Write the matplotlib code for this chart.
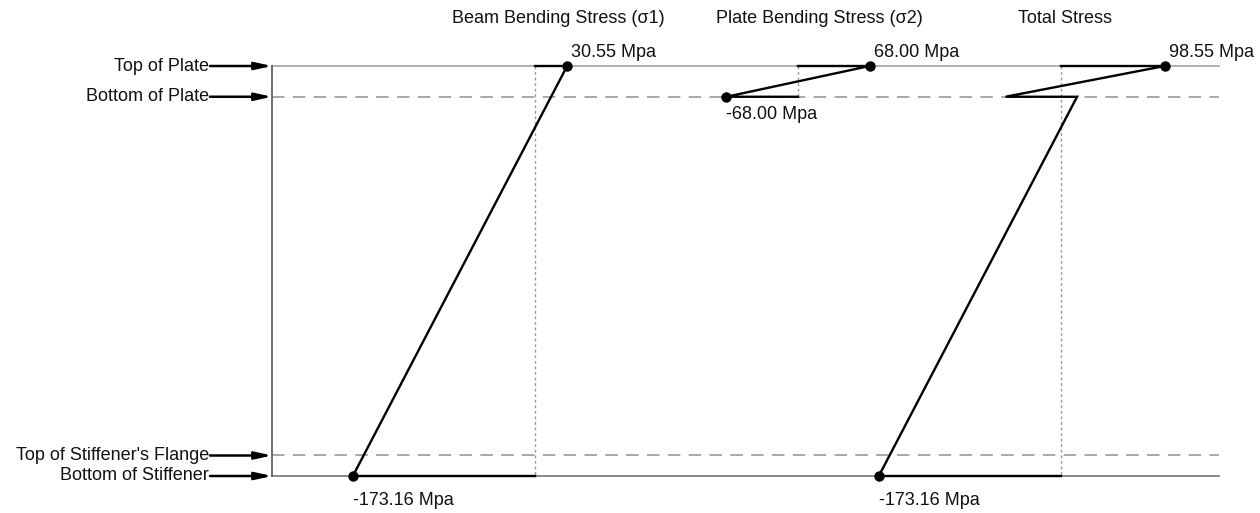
import matplotlib
matplotlib.use('Agg')
import matplotlib.pyplot as plt
import numpy as np

plt.rcParams['font.family'] = ['Liberation Sans', 'DejaVu Sans']

# ---- data ----
levels = ["Top of Plate", "Bottom of Plate", "Top of Stiffener's Flange", "Bottom of Stiffener"]
depths = [0, 15, 190, 200]                       # mm from top of plate
titles = ["Beam Bending Stress (σ1)", "Plate Bending Stress (σ2)", "Total Stress"]

beam_depths = [0, 0, 200, 200]
beam_stress = [0, 30.55, -173.16, 0]

plate_depths = [0, 0, 15, 15]
plate_stress = [0, 68.00, -68.00, 0]

total_depths = [0, 0, 15, 15, 200, 200]
total_stress = [0, 98.55, -52.7, 15.3, -173.16, 0]

# labelled points
beam_pts = [(30.55, 0, "30.55 Mpa"), (-173.16, 200, "-173.16 Mpa")]
plate_pts = [(68.00, 0, "68.00 Mpa"), (-68.00, 15, "-68.00 Mpa")]
total_pts = [(98.55, 0, "98.55 Mpa"), (-173.16, 200, "-173.16 Mpa")]

# ---- layout ----
panel_offset = [0, 250, 500]       # zero-stress axis of each panel (MPa units)
title_x = [22, 270, 504]
frame_left, frame_right = -250, 650
arrow_start = -309

fig = plt.figure(figsize=(12.6, 5.13), dpi=100)
ax = fig.add_axes([0, 0, 1, 1])
ax.set_xlim(-508.6, 689.2)
ax.set_ylim(218.05, -32.2)
ax.axis('off')

# reference lines
ax.plot([frame_left, frame_right], [depths[0]] * 2, color='#aaaaaa', lw=1.3, zorder=1)
ax.plot([frame_left, frame_right], [depths[1]] * 2, color='#999999', lw=1.2,
        linestyle=(0, (7.5, 5)), zorder=1)
ax.plot([frame_left, frame_right], [depths[2]] * 2, color='#999999', lw=1.2,
        linestyle=(0, (7.5, 5)), zorder=1)
ax.plot([frame_left, frame_right], [depths[3]] * 2, color='#808080', lw=1.3, zorder=1)
ax.plot([frame_left, frame_left], [depths[0], depths[3]], color='#555555', lw=1.2, zorder=1)

# zero-stress dotted axes
dot = dict(color='#999999', lw=1.0, linestyle=(0, (2, 2)), zorder=1)
ax.plot([panel_offset[0]] * 2, [depths[0], depths[3]], **dot)
ax.plot([panel_offset[1]] * 2, [depths[0], depths[1]], **dot)
ax.plot([panel_offset[2]] * 2, [depths[0], depths[3]], **dot)

# level labels and arrows
for name, d in zip(levels, depths):
    ax.annotate('', xy=(frame_left, d), xytext=(arrow_start, d),
                arrowprops=dict(arrowstyle='-|>,head_length=1.0,head_width=0.22',
                                color='black', lw=1.8, shrinkA=0, shrinkB=0),
                zorder=3)
    ax.text(arrow_start - 1, d, name, ha='right', va='center', fontsize=13, color='#111111')

# titles
for t, x in zip(titles, title_x):
    ax.text(x, -23.4, t, ha='center', va='center', fontsize=13, color='#111111')

# stress diagrams
for off, xs, ys, pts in [(panel_offset[0], beam_stress, beam_depths, beam_pts),
                         (panel_offset[1], plate_stress, plate_depths, plate_pts),
                         (panel_offset[2], total_stress, total_depths, total_pts)]:
    ax.plot(off + np.array(xs), ys, color='black', lw=1.7, zorder=4,
            solid_joinstyle='miter')
    for s, d, lab in pts:
        ax.plot(off + s, d, 'o', color='black', markersize=6.5, zorder=5)
        if d == 0:
            off_pt = (3, 10)
        elif d == 200:
            off_pt = (0, -18)
        else:
            off_pt = (0, -13)
        ax.annotate(lab, xy=(off + s, d), xytext=off_pt, textcoords='offset points',
                    ha='left', va='center', fontsize=13, color='#111111')

fig.savefig('out.png', dpi=100)
